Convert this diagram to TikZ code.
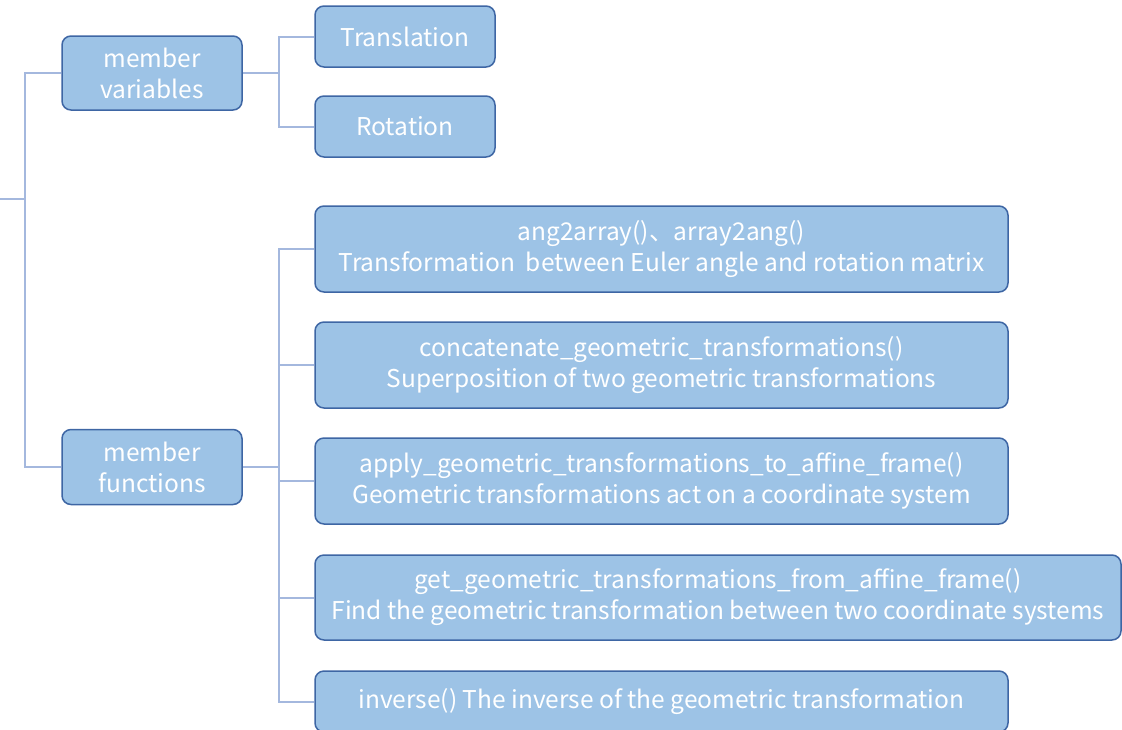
\documentclass[tikz,border=0pt]{standalone}
\usepackage{fontspec}
\setmainfont{Noto Sans CJK SC}
\definecolor{boxfill}{HTML}{9DC3E6}
\definecolor{boxline}{HTML}{3E66A4}
\definecolor{conn}{HTML}{A4B8DE}
\begin{document}
\begin{tikzpicture}[x=1pt,y=-1pt,
  box/.style={draw=boxline, fill=boxfill, line width=1.5pt, rounded corners=9pt,
    text=white, align=center, inner sep=0pt, font=\fontsize{24.5}{31}\selectfont},
  link/.style={draw=conn, line width=2pt}]
\useasboundingbox (0,0) rectangle (1122,729);
\node[box, minimum width=180pt, minimum height=74pt] (mv) at (152,73) {member\\variables};
\node[box, minimum width=180pt, minimum height=75pt] (mf) at (152,467) {member\\functions};
\node[box, minimum width=180pt, minimum height=61pt] (tr) at (405,36.5) {Translation};
\node[box, minimum width=180pt, minimum height=61pt] (ro) at (405,126.5) {Rotation};
\node[box, minimum width=693pt, minimum height=86pt] (f1) at (661.5,249) {ang2array()、array2ang()\\Transformation\ \ between Euler angle and rotation matrix};
\node[box, minimum width=693pt, minimum height=86pt] (f2) at (661.5,365) {concatenate\_geometric\_transformations()\\Superposition of two geometric transformations};
\node[box, minimum width=693pt, minimum height=86pt] (f3) at (661.5,481) {apply\_geometric\_transformations\_to\_affine\_frame()\\Geometric transformations act on a coordinate system};
\node[box, minimum width=806pt, minimum height=85pt] (f4) at (718,597.5) {get\_geometric\_transformations\_from\_affine\_frame()\\Find the geometric transformation between two coordinate systems};
\node[box, minimum width=693pt, minimum height=61pt] (f5) at (661.5,701.5) {inverse() The inverse of the geometric transformation};
\coordinate (root) at (0,199);
\coordinate (j0) at (25,199);
\coordinate (j1) at (279,73);
\coordinate (j2) at (279,467);
\draw[link] (root) -- (j0);
\draw[link] (j0) |- (mv.west);
\draw[link] (j0) |- (mf.west);
\draw[link] (mv.east) -- (j1);
\draw[link] (j1) |- (tr.west);
\draw[link] (j1) |- (ro.west);
\draw[link] (mf.east) -- (j2);
\foreach \n in {f1,f2,f3,f4,f5} \draw[link] (j2) |- (\n.west);
\end{tikzpicture}
\end{document}
